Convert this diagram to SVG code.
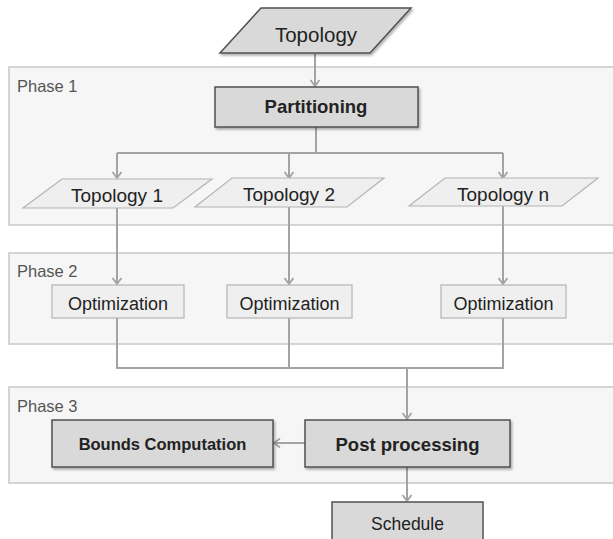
<svg xmlns="http://www.w3.org/2000/svg" width="613" height="539" viewBox="0 0 613 539">
<style>
  .phase { fill: #f6f6f6; stroke: #c8c8c8; stroke-width: 1.5; }
  .phlabel { font-family: "Liberation Sans", Arial, sans-serif; font-size: 16.5px; fill: #555; }
  .dark { fill: #d9d9d9; stroke: #505050; stroke-width: 1.5; }
  .light { fill: #efefef; stroke: #b4b4b4; stroke-width: 1.2; }
  .t { font-family: "Liberation Sans", Arial, sans-serif; fill: #222; text-anchor: middle; }
  .b { font-weight: bold; }
  .conn { fill: none; stroke: #a3a3a3; stroke-width: 2; }
</style>
<defs>
  <marker id="arr" markerWidth="12" markerHeight="12" refX="10" refY="6" orient="auto" markerUnits="userSpaceOnUse">
    <polyline points="4,1.5 10,6 4,10.5" fill="none" stroke="#a3a3a3" stroke-width="1.8"/>
  </marker>
  <filter id="sh" x="-10%" y="-20%" width="130%" height="150%">
    <feDropShadow dx="1.5" dy="2" stdDeviation="1.2" flood-color="#000" flood-opacity="0.3"/>
  </filter>
</defs>
<rect width="613" height="539" fill="#ffffff"/>

<g id="phase1">
  <rect class="phase" x="9" y="67" width="610" height="158"/>
  <text class="phlabel" x="17" y="92">Phase 1</text>
</g>
<g id="phase2">
  <rect class="phase" x="9" y="253" width="610" height="91"/>
  <text class="phlabel" x="17" y="277">Phase 2</text>
</g>
<g id="phase3">
  <rect class="phase" x="9" y="387" width="610" height="96"/>
  <text class="phlabel" x="17" y="412">Phase 3</text>
</g>

<g id="connectors">
  <path class="conn" d="M315,54 V86" marker-end="url(#arr)"/>
  <path class="conn" d="M316,127 V153"/>
  <path class="conn" d="M117,153 H503"/>
  <path class="conn" d="M117,153 V178" marker-end="url(#arr)"/>
  <path class="conn" d="M289,153 V178" marker-end="url(#arr)"/>
  <path class="conn" d="M503,153 V178" marker-end="url(#arr)"/>
  <path class="conn" d="M117,208 V284" marker-end="url(#arr)"/>
  <path class="conn" d="M289,207 V284" marker-end="url(#arr)"/>
  <path class="conn" d="M503,206 V284" marker-end="url(#arr)"/>
  <path class="conn" d="M117,318 V368 H503 V318"/>
  <path class="conn" d="M289,318 V368"/>
  <path class="conn" d="M407,368 V419" marker-end="url(#arr)"/>
  <path class="conn" d="M305,443 H274" marker-end="url(#arr)"/>
  <path class="conn" d="M407,467 V501" marker-end="url(#arr)"/>
</g>

<g id="topology">
  <polygon class="dark" points="261,8 411,8 370,53 220,53" filter="url(#sh)"/>
  <text class="t" x="316" y="42" font-size="20.5">Topology</text>
</g>
<g id="partitioning">
  <rect class="dark" x="215" y="87" width="203" height="40" filter="url(#sh)"/>
  <text class="t b" x="316" y="113" font-size="18.5">Partitioning</text>
</g>
<g id="topology1">
  <polygon class="light" points="62,179 212,179 173,208 23,208"/>
  <text class="t" x="117" y="202" font-size="19">Topology 1</text>
</g>
<g id="topology2">
  <polygon class="light" points="232,178 384,178 347,207 195,207"/>
  <text class="t" x="289" y="201" font-size="19">Topology 2</text>
</g>
<g id="topologyn">
  <polygon class="light" points="445,178 598,178 562,206 409,206"/>
  <text class="t" x="503" y="201" font-size="19">Topology n</text>
</g>
<g id="opt1">
  <rect class="light" x="52" y="285" width="132" height="33"/>
  <text class="t" x="118" y="309.5" font-size="18">Optimization</text>
</g>
<g id="opt2">
  <rect class="light" x="227" y="285" width="125" height="33"/>
  <text class="t" x="289.5" y="309.5" font-size="18">Optimization</text>
</g>
<g id="opt3">
  <rect class="light" x="441" y="285" width="125" height="33"/>
  <text class="t" x="503.5" y="309.5" font-size="18">Optimization</text>
</g>
<g id="bounds">
  <rect class="dark" x="52" y="420" width="221" height="47" filter="url(#sh)"/>
  <text class="t b" x="162.5" y="450" font-size="16.5">Bounds Computation</text>
</g>
<g id="postprocessing">
  <rect class="dark" x="305" y="420" width="205" height="47" filter="url(#sh)"/>
  <text class="t b" x="407.5" y="451" font-size="18.5">Post processing</text>
</g>
<g id="schedule">
  <rect class="dark" x="332" y="502" width="151" height="45"/>
  <text class="t" x="407.5" y="530" font-size="17.5">Schedule</text>
</g>
</svg>
